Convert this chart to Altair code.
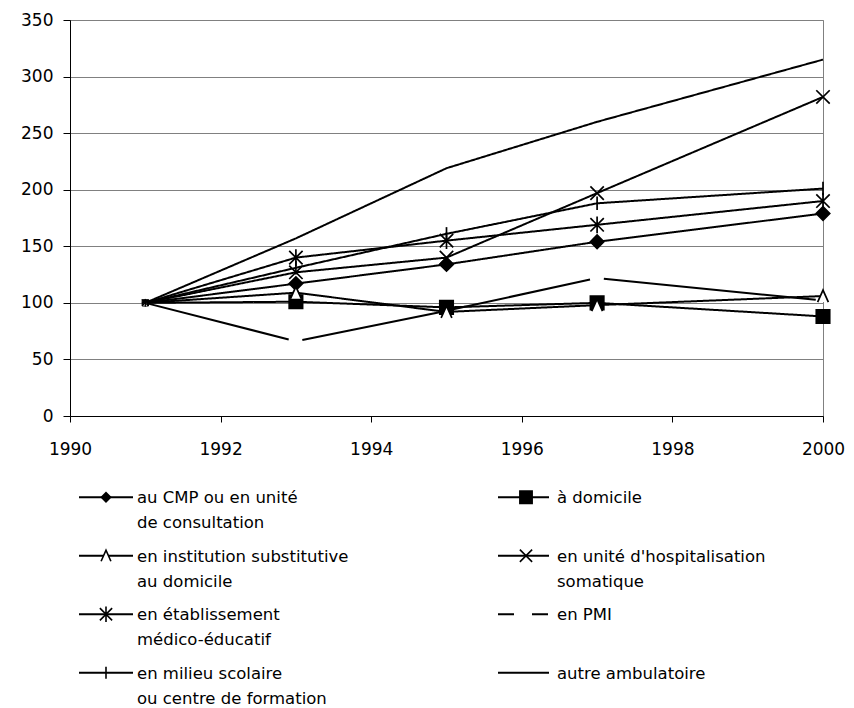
import altair as alt
import pandas as pd

# ---------------- data ----------------
years = [1991, 1993, 1995, 1997, 2000]
series_names = [
    "au CMP ou en unité\nde consultation",
    "à domicile",
    "en institution substitutive\nau domicile",
    "en unité d'hospitalisation\nsomatique",
    "en établissement\nmédico-éducatif",
    "en PMI",
    "en milieu scolaire\nou centre de formation",
    "autre ambulatoire",
]
cmp_vals = [100, 117, 134, 154, 179]
domicile_vals = [100, 101, 96, 100, 88]
institution_vals = [100, 109, 92, 98, 106]
hospitalisation_vals = [100, 127, 140, 197, 282]
etablissement_vals = [100, 140, 155, 169, 190]
pmi_vals = [100, 66, 93, 122, 102]
milieu_vals = [100, 131, 161, 188, 201]
autre_vals = [100, 157, 219, 260, 315]
x_ticks = [1990, 1992, 1994, 1996, 1998, 2000]
y_ticks = [0, 50, 100, 150, 200, 250, 300, 350]

all_vals = [cmp_vals, domicile_vals, institution_vals, hospitalisation_vals,
            etablissement_vals, pmi_vals, milieu_vals, autre_vals]
rows = []
for name, vals in zip(series_names, all_vals):
    for yr, v in zip(years, vals):
        rows.append({"series": name, "year": yr, "value": v})
df = pd.DataFrame(rows)
leg_df = pd.DataFrame({"series": series_names, "idx": list(range(len(series_names)))})

# ---------------- styles ----------------
FONT = "DejaVu Sans"
PMI = "en PMI"
CMP = series_names[0]
NO_MARK = ["en PMI", "autre ambulatoire"]
shape_range = [
    "diamond",
    "square",
    "M-0.8,0.9L0,-0.9L0.8,0.9",
    "M-1,-1L1,1M-1,1L1,-1",
    "M-1,-1L1,1M-1,1L1,-1M0,-1.25L0,1.25",
    "M0,0",
    "M0,-1L0,1",
    "M0,0",
]
fill_range = ["black", "black", "white", "transparent", "transparent",
              "transparent", "transparent", "transparent"]
shape_enc = alt.Shape("series:N", scale=alt.Scale(domain=series_names, range=shape_range), legend=None)
fill_enc = alt.Fill("series:N", scale=alt.Scale(domain=series_names, range=fill_range), legend=None)
has_mark = (alt.datum.series != NO_MARK[0]) & (alt.datum.series != NO_MARK[1])

x_enc = alt.X("year:Q", scale=alt.Scale(domain=[1990, 2000], nice=False, zero=False),
              axis=alt.Axis(values=x_ticks, format="d", title=None, grid=False,
                            tickSize=6, labelPadding=19, labelFlush=False,
                            labelFontSize=17, labelFont=FONT, labelColor="black",
                            domainColor="black", tickColor="black"))
y_enc = alt.Y("value:Q", scale=alt.Scale(domain=[0, 350], nice=False),
              axis=alt.Axis(values=y_ticks, title=None, grid=True, gridColor="#808080",
                            tickSize=7, labelPadding=10, minExtent=56, maxExtent=56,
                            labelFontSize=17, labelFont=FONT, labelColor="black",
                            domainColor="black", tickColor="black"))

base = alt.Chart(df)
lines = base.mark_line(strokeWidth=2, color="black").encode(
    x=x_enc, y=y_enc, detail="series:N",
    strokeDash=alt.condition(alt.datum.series == PMI,
                             alt.value([148, 14, 140, 14, 140, 14, 213, 60]),
                             alt.value([1, 0])),
)
points = base.transform_filter((alt.datum.year > 1991) & has_mark).mark_point(
    filled=False, color="black", strokeWidth=1.7, size=180, opacity=1
).encode(x="year:Q", y="value:Q", shape=shape_enc, fill=fill_enc)
points0 = base.transform_filter((alt.datum.year == 1991) & has_mark).mark_point(
    filled=False, color="black", strokeWidth=1, size=40, opacity=1
).encode(x="year:Q", y="value:Q", shape=shape_enc, fill=fill_enc)
plot = alt.layer(lines, points0, points).properties(
    width=753, height=396, view=alt.ViewBackground(stroke="#808080", strokeWidth=1)
)

# ---------------- legend (built from series list) ----------------
leg = alt.Chart(leg_df).transform_calculate(
    col="datum.idx % 2", row="floor(datum.idx / 2)"
).transform_calculate(
    x1="datum.col * 419 + 9", x2="datum.col * 416 + 63",
    xm="datum.col * 420 + 36", xt="datum.col * 420 + 67",
)
lx = alt.Scale(domain=[0, 753], nice=False, zero=False)
ly = alt.Scale(domain=[-0.5, 3.5], nice=False, zero=False, reverse=True)
leg_rule = leg.mark_rule(strokeWidth=2, color="black").encode(
    x=alt.X("x1:Q", scale=lx, axis=None), x2="x2:Q",
    y=alt.Y("row:Q", scale=ly, axis=None),
    strokeDash=alt.condition(alt.datum.series == PMI, alt.value([16, 18]), alt.value([1, 0])),
)
leg_pts = leg.transform_filter(has_mark).mark_point(
    filled=False, color="black", strokeWidth=1.6, opacity=1
).encode(
    x=alt.X("xm:Q", scale=lx, axis=None), y=alt.Y("row:Q", scale=ly, axis=None),
    shape=shape_enc, fill=fill_enc,
    size=alt.condition(alt.datum.series == CMP, alt.value(85), alt.value(150)),
)
leg_txt = leg.mark_text(align="left", baseline="top", dy=-7, lineBreak="\n", lineHeight=25,
                        fontSize=16.5, font=FONT, color="black").encode(
    x=alt.X("xt:Q", scale=lx, axis=None), y=alt.Y("row:Q", scale=ly, axis=None),
    text="series:N",
)
legend = alt.layer(leg_rule, leg_pts, leg_txt).properties(
    width=753, height=234, view=alt.ViewBackground(stroke=None)
)

chart = alt.vconcat(plot, legend, spacing=10).properties(
    padding={"left": 5, "top": 2, "right": 0, "bottom": 0},
    background="white",
)
chart.save("out.html", embed_options={"renderer": "svg", "actions": False})
